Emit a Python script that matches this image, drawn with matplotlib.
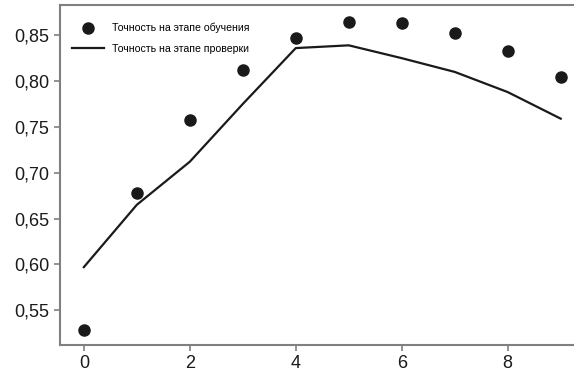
import matplotlib
matplotlib.use("Agg")
import matplotlib.pyplot as plt
from matplotlib.ticker import FuncFormatter

epochs = list(range(10))
train_acc = [0.528, 0.678, 0.758, 0.812, 0.847, 0.865, 0.863, 0.853, 0.833, 0.804]
val_acc = [0.597, 0.665, 0.712, 0.775, 0.836, 0.839, 0.825, 0.810, 0.788, 0.759]
label_train = "Точность на этапе обучения"
label_val = "Точность на этапе проверки"

plt.rcParams['font.family'] = ['Liberation Sans', 'DejaVu Sans']

fig = plt.figure(figsize=(5.74, 3.71), dpi=100)
ax = fig.add_axes([0.1045, 0.070, 0.9, 0.9165])
ax.plot(epochs, train_acc, 'o', color='#1a1a1a', markersize=8, label=label_train)
ax.plot(epochs, val_acc, '-', color='#1a1a1a', linewidth=1.6, label=label_val)

ax.set_xlim(-0.45, 9.3)
ax.set_ylim(0.512, 0.883)
ax.set_xticks([0, 2, 4, 6, 8])
ax.set_yticks([0.55, 0.60, 0.65, 0.70, 0.75, 0.80, 0.85])
ax.yaxis.set_major_formatter(FuncFormatter(lambda v, p: f"{v:.2f}".replace('.', ',')))
for s in ax.spines.values():
    s.set_color('#808080')
    s.set_linewidth(1.5)
ax.spines['right'].set_visible(False)
ax.tick_params(colors='#808080', labelcolor='#1a1a1a', labelsize=13, width=1.2, length=4)

leg = ax.legend(loc='upper left', frameon=False, fontsize=7.6, bbox_to_anchor=(0.004, 0.975),
                handlelength=3.1, handletextpad=0.7, labelspacing=1.0, borderaxespad=0.5)
fig.savefig('out.png', dpi=100)
